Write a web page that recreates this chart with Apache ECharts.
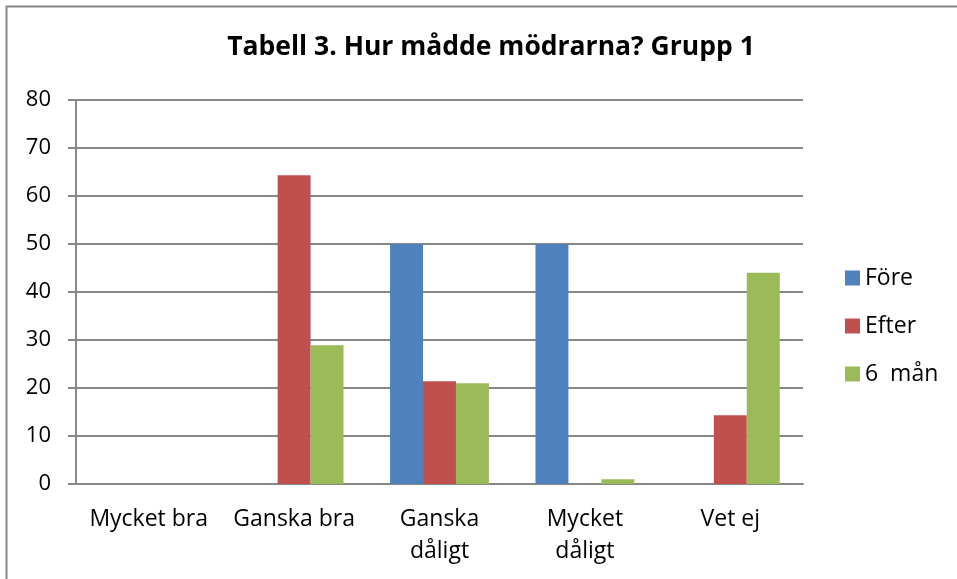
<!DOCTYPE html>
<html>
<head>
<meta charset="utf-8">
<script src="https://cdn.jsdelivr.net/npm/echarts@6/dist/echarts.min.js"></script>
<style>
  html, body { margin: 0; padding: 0; background: #fff; }
  #chart { width: 957px; height: 579px; }
</style>
</head>
<body>
<div id="chart"></div>
<script>
var categories = ['Mycket bra', 'Ganska bra', 'Ganska\ndåligt', 'Mycket\ndåligt', 'Vet ej'];
var seriesNames = ['Före', 'Efter', '6  mån'];
var fore = [0, 0, 50, 50, 0];
var efter = [0, 64.3, 21.4, 0, 14.3];
var manad6 = [0, 28.9, 21, 1, 44];
var colors = ['#4F81BD', '#C0504D', '#9BBB59'];

var myChart = echarts.init(document.getElementById('chart'));
var font = '"Open Sans", sans-serif';

var option = {
    animation: false,
    color: colors,
    textStyle: { fontFamily: font },
    title: {
        text: 'Tabell 3. Hur mådde mödrarna? Grupp 1',
        left: 486,
        top: 29,
        textAlign: 'center',
        textStyle: {
            fontFamily: font,
            fontSize: 26.5,
            fontWeight: 'bold',
            color: '#000'
        }
    },
    graphic: [{
        type: 'rect',
        shape: { x: 6.5, y: 6.5, width: 1000, height: 1000 },
        style: { fill: 'none', stroke: '#888', lineWidth: 2 },
        silent: true
    }],
    legend: {
        orient: 'vertical',
        left: 845,
        top: 266,
        padding: 0,
        itemWidth: 15,
        itemHeight: 15,
        itemGap: 24,
        icon: 'rect',
        textStyle: { fontFamily: font, fontSize: 23, lineHeight: 24, color: '#000' },
        data: seriesNames
    },
    grid: {
        left: 76,
        right: 154,
        top: 100,
        bottom: 95,
        containLabel: false
    },
    xAxis: {
        type: 'category',
        data: categories,
        axisLine: { lineStyle: { color: '#888', width: 2 } },
        axisTick: { show: false },
        axisLabel: {
            interval: 0,
            margin: 19,
            fontFamily: font,
            fontSize: 23,
            color: '#000',
            lineHeight: 32
        }
    },
    yAxis: {
        type: 'value',
        min: 0,
        max: 80,
        interval: 10,
        axisLine: { show: true, lineStyle: { color: '#888', width: 2 } },
        axisTick: { show: true, length: 8, lineStyle: { color: '#888', width: 2 } },
        splitLine: { lineStyle: { color: '#888', width: 2 } },
        axisLabel: {
            margin: 25,
            fontFamily: font,
            fontSize: 22,
            color: '#000'
        }
    },
    series: [
        { name: seriesNames[0], type: 'bar', data: fore, barGap: '0%', barCategoryGap: '32%' },
        { name: seriesNames[1], type: 'bar', data: efter, barGap: '0%', barCategoryGap: '32%' },
        { name: seriesNames[2], type: 'bar', data: manad6, barGap: '0%', barCategoryGap: '32%' }
    ]
};
myChart.setOption(option);
</script>
</body>
</html>
